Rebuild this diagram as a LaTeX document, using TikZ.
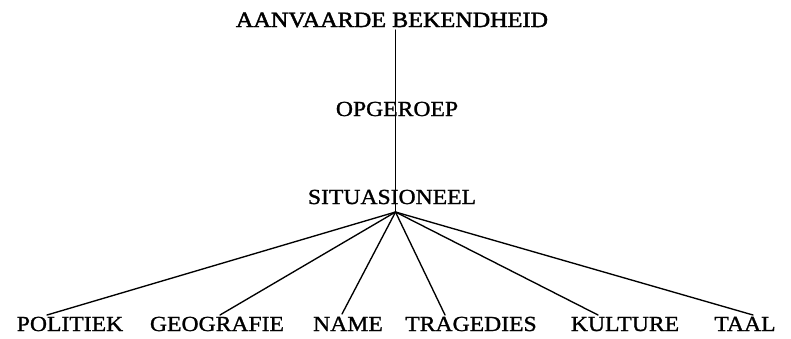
\documentclass[tikz,border=0pt]{standalone}
\usepackage{fontspec}
\setmainfont{Liberation Serif}[FakeStretch=1.1,FakeBold=1.2]
\newfontfamily\topfont{Liberation Serif}[FakeStretch=1.11,FakeBold=2]
\begin{document}
\begin{tikzpicture}[x=1pt,y=-1pt,
  lbl/.style={anchor=base,inner sep=0pt,outer sep=0pt,font=\fontsize{21.5}{24}\selectfont},
  conn/.style={line width=1.35pt,line cap=round}]
\useasboundingbox (0,0) rectangle (791,338);
% labels
\node[lbl,font=\topfont\fontsize{21.8}{24}\selectfont] (a) at (392,27) {AANVAARDE BEKENDHEID};
\node[lbl] (o) at (397,116) {OPGEROEP};
\node[lbl] (s) at (392,204) {SITUASIONEEL};
\node[lbl] (p) at (70,331) {POLITIEK};
\node[lbl] (g) at (217,331) {GEOGRAFIE};
\node[lbl] (n) at (348,331) {NAME};
\node[lbl] (t) at (471,331) {TRAGEDIES};
\node[lbl] (k) at (625,331) {KULTURE};
\node[lbl] (l) at (745,331) {TAAL};
% junction and connector ends
\coordinate (hub) at (395.5,212);
\coordinate (top) at (395.5,30);
\coordinate (pe) at (47,315);
\coordinate (ge) at (220,315);
\coordinate (ne) at (342,314);
\coordinate (te) at (445,315);
\coordinate (ke) at (598,315);
\coordinate (le) at (753,315);
% connectors
\draw[conn] (top) -- (hub);
\foreach \e in {pe,ge,ne,te,ke,le} \draw[conn] (hub) -- (\e);
\end{tikzpicture}
\end{document}
